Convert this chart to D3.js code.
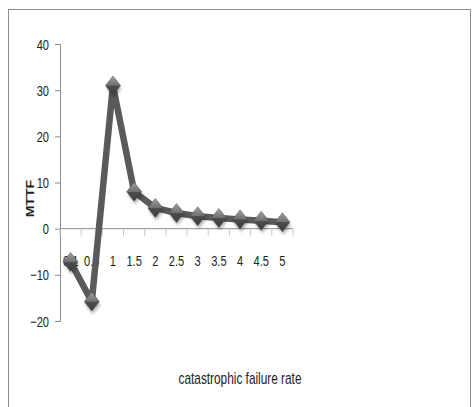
<!DOCTYPE html>
<html>
<head>
<meta charset="utf-8">
<script src="https://cdn.jsdelivr.net/npm/d3@7"></script>
<style>
  html, body { margin: 0; padding: 0; background: #fff; }
  svg { display: block; }
  text { font-family: "Liberation Sans", Arial, sans-serif; fill: #222; }
</style>
</head>
<body>
<svg id="chart" width="474" height="407"></svg>
<script>
// MTTF versus catastrophic failure rate
const rates = ["0.1", "0.5", "1", "1.5", "2", "2.5", "3", "3.5", "4", "4.5", "5"];
const mttf = [-7.2, -15.8, 31, 8, 4.5, 3.4, 2.7, 2.3, 2, 1.7, 1.4];
const yTicks = [-20, -10, 0, 10, 20, 30, 40];

const narrow = 0.74; // horizontal squeeze applied to all chart text

const svg = d3.select("#chart");

// outer frame
svg.append("rect").attr("x", 8.5).attr("y", 9.5).attr("width", 462).attr("height", 420)
  .attr("fill", "none").attr("stroke", "#8c8c8c").attr("stroke-width", 1);

const x = d3.scaleBand().domain(rates).range([60, 293]);
const y = d3.scaleLinear().domain([-20, 40]).range([321, 44]);

const defs = svg.append("defs");
const grad = defs.append("linearGradient").attr("id", "mk").attr("x1", 0).attr("y1", 0).attr("x2", 0).attr("y2", 1);
grad.append("stop").attr("offset", "0%").attr("stop-color", "#a0a0a0");
grad.append("stop").attr("offset", "49%").attr("stop-color", "#707070");
grad.append("stop").attr("offset", "51%").attr("stop-color", "#4e4e4e");
grad.append("stop").attr("offset", "100%").attr("stop-color", "#3a3a3a");
const blur = defs.append("filter").attr("id", "sh").attr("x", "-50%").attr("y", "-50%").attr("width", "200%").attr("height", "200%");
blur.append("feGaussianBlur").attr("stdDeviation", 1.5);

// y axis
const yAxis = d3.axisLeft(y).tickValues(yTicks).tickSize(5).tickPadding(6).tickFormat(d3.format("d"));
const gy = svg.append("g").attr("transform", "translate(60,0)").call(yAxis);
gy.select(".domain").attr("stroke", "#8c8c8c");
gy.selectAll(".tick line").attr("stroke", "#8c8c8c");
gy.selectAll(".tick text")
  .attr("font-size", 15).attr("fill", "#222").attr("x", null).attr("dy", null)
  .attr("transform", `translate(-11,5) scale(${narrow},1)`);

// x axis along zero, ticks on category boundaries
const gx = svg.append("g").attr("transform", `translate(0,${y(0)})`);
gx.append("line").attr("x1", 60).attr("x2", 293).attr("stroke", "#8c8c8c");
const bounds = rates.map(r => x(r)).concat([x.range()[1]]);
gx.selectAll("line.tk").data(bounds).join("line").attr("class", "tk")
  .attr("x1", d => d).attr("x2", d => d)
  .attr("y1", 0).attr("y2", 7).attr("stroke", "#c8c8c8");
gx.selectAll("text").data(rates).join("text")
  .attr("transform", d => `translate(${x(d) + x.bandwidth() / 2},37) scale(${narrow},1)`)
  .attr("text-anchor", "middle").attr("font-size", 15).text(d => d);

// series line
const pts = rates.map((r, i) => [x(r) + x.bandwidth() / 2, y(mttf[i])]);
svg.append("path").datum(pts).attr("d", d3.line())
  .attr("fill", "none").attr("stroke", "#5a5a5a").attr("stroke-width", 6.5).attr("stroke-linejoin", "round");

// diamond markers with soft shadow
const diamond = "M0,-9.5 L7.5,0 L0,9.5 L-7.5,0 Z";
const mk = svg.append("g");
mk.selectAll("path.shadow").data(pts).join("path").attr("class", "shadow")
  .attr("d", diamond).attr("transform", d => `translate(${d[0] + 1},${d[1] + 3})`)
  .attr("fill", "#000").attr("opacity", 0.3).attr("filter", "url(#sh)");
mk.selectAll("path.m").data(pts).join("path").attr("class", "m")
  .attr("d", diamond).attr("transform", d => `translate(${d[0]},${d[1]})`)
  .attr("fill", "url(#mk)").attr("stroke", "#505050").attr("stroke-width", 0.5);

// axis titles
svg.append("text")
  .attr("transform", `translate(34,${y(6.5)}) scale(${narrow},1) rotate(-90)`)
  .attr("text-anchor", "middle").attr("font-size", 14).attr("font-weight", "bold")
  .text("MTTF");
svg.append("text")
  .attr("transform", `translate(240,384) scale(${narrow},1)`)
  .attr("text-anchor", "middle").attr("font-size", 16)
  .text("catastrophic failure rate");
</script>
</body>
</html>
